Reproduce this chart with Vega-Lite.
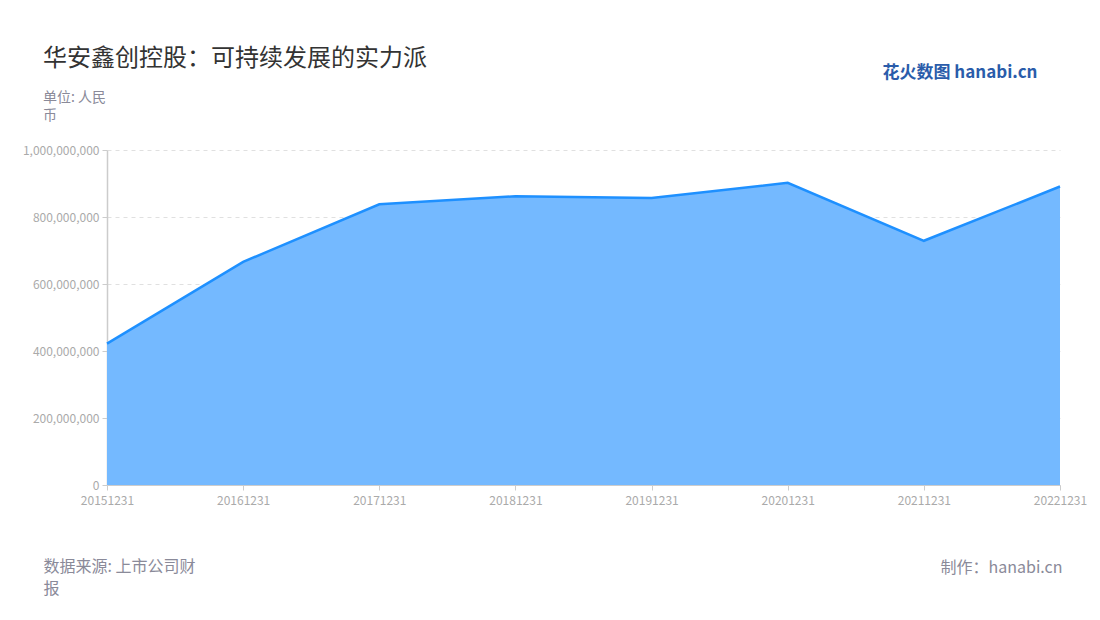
{
  "$schema": "https://vega.github.io/schema/vega-lite/v6.json",
  "width": 953,
  "height": 335,
  "autosize": "none",
  "padding": {"left": 107, "top": 150, "right": 40, "bottom": 135},
  "background": "white",
  "config": {
    "font": "Noto Sans CJK SC",
    "view": {"stroke": null}
  },
  "title": {
    "text": "华安鑫创控股：可持续发展的实力派",
    "subtitle": ["单位: 人民", "币"],
    "anchor": "start",
    "frame": "group",
    "dx": -64,
    "offset": -60,
    "fontSize": 24,
    "fontWeight": "normal",
    "color": "#333333",
    "subtitleFontSize": 14,
    "subtitleColor": "#8a8a99",
    "subtitleLineHeight": 18,
    "subtitlePadding": 20
  },
  "data": {
    "values": [
      {"date": "20151231", "value": 422000000},
      {"date": "20161231", "value": 666000000},
      {"date": "20171231", "value": 838000000},
      {"date": "20181231", "value": 862000000},
      {"date": "20191231", "value": 857000000},
      {"date": "20201231", "value": 902000000},
      {"date": "20211231", "value": 729000000},
      {"date": "20221231", "value": 891000000}
    ]
  },
  "layer": [
    {
      "mark": {"type": "area", "color": "#74b9ff", "opacity": 1, "line": {"color": "#1e90ff", "strokeWidth": 2.5}},
      "encoding": {
        "x": {
          "field": "date", "type": "ordinal",
          "scale": {"type": "point", "padding": 0},
          "axis": {
            "title": ["数据来源: 上市公司财", "报"],
            "titleX": -64, "titleY": 73, "titleAlign": "left", "titleAnchor": "start",
            "titleBaseline": "top", "titleFontSize": 16, "titleFontWeight": "normal",
            "titleColor": "#8a8a99", "titleLineHeight": 22,
            "labelAngle": 0, "labelFontSize": 12, "labelColor": "#aaaaaa", "labelPadding": 5,
            "domainColor": "#cccccc", "tickColor": "#cccccc", "tickSize": 5, "grid": false
          }
        },
        "y": {
          "field": "value", "type": "quantitative",
          "scale": {"domain": [0, 1000000000], "nice": false},
          "axis": {
            "title": null,
            "values": [0, 200000000, 400000000, 600000000, 800000000, 1000000000],
            "format": ",d",
            "labelFontSize": 12, "labelColor": "#aaaaaa", "labelPadding": 3,
            "domainColor": "#cccccc", "domainWidth": 1.5, "tickColor": "#cccccc", "tickSize": 5,
            "grid": true, "gridColor": "#e0e0e0", "gridDash": [4, 4]
          }
        }
      }
    },
    {
      "mark": {"type": "point", "opacity": 0},
      "encoding": {
        "x": {
          "field": "date", "type": "ordinal",
          "axis": {
            "orient": "top", "labels": false, "ticks": false, "domain": false, "grid": false,
            "title": "花火数图 hanabi.cn",
            "titleX": 930, "titleY": -78, "titleAlign": "right", "titleAnchor": "end",
            "titleBaseline": "middle", "titleFontSize": 17, "titleFontWeight": "bold",
            "titleColor": "#2a5caa"
          }
        },
        "y": {
          "field": "value", "type": "quantitative",
          "axis": {
            "orient": "right", "labels": false, "ticks": false, "domain": false, "grid": false,
            "title": "制作：hanabi.cn",
            "titleAngle": 0, "titleX": 2, "titleY": 417, "titleAlign": "right",
            "titleBaseline": "middle", "titleFontSize": 16, "titleFontWeight": "normal",
            "titleColor": "#8a8a99"
          }
        }
      }
    }
  ],
  "resolve": {"axis": {"x": "independent", "y": "independent"}}
}
